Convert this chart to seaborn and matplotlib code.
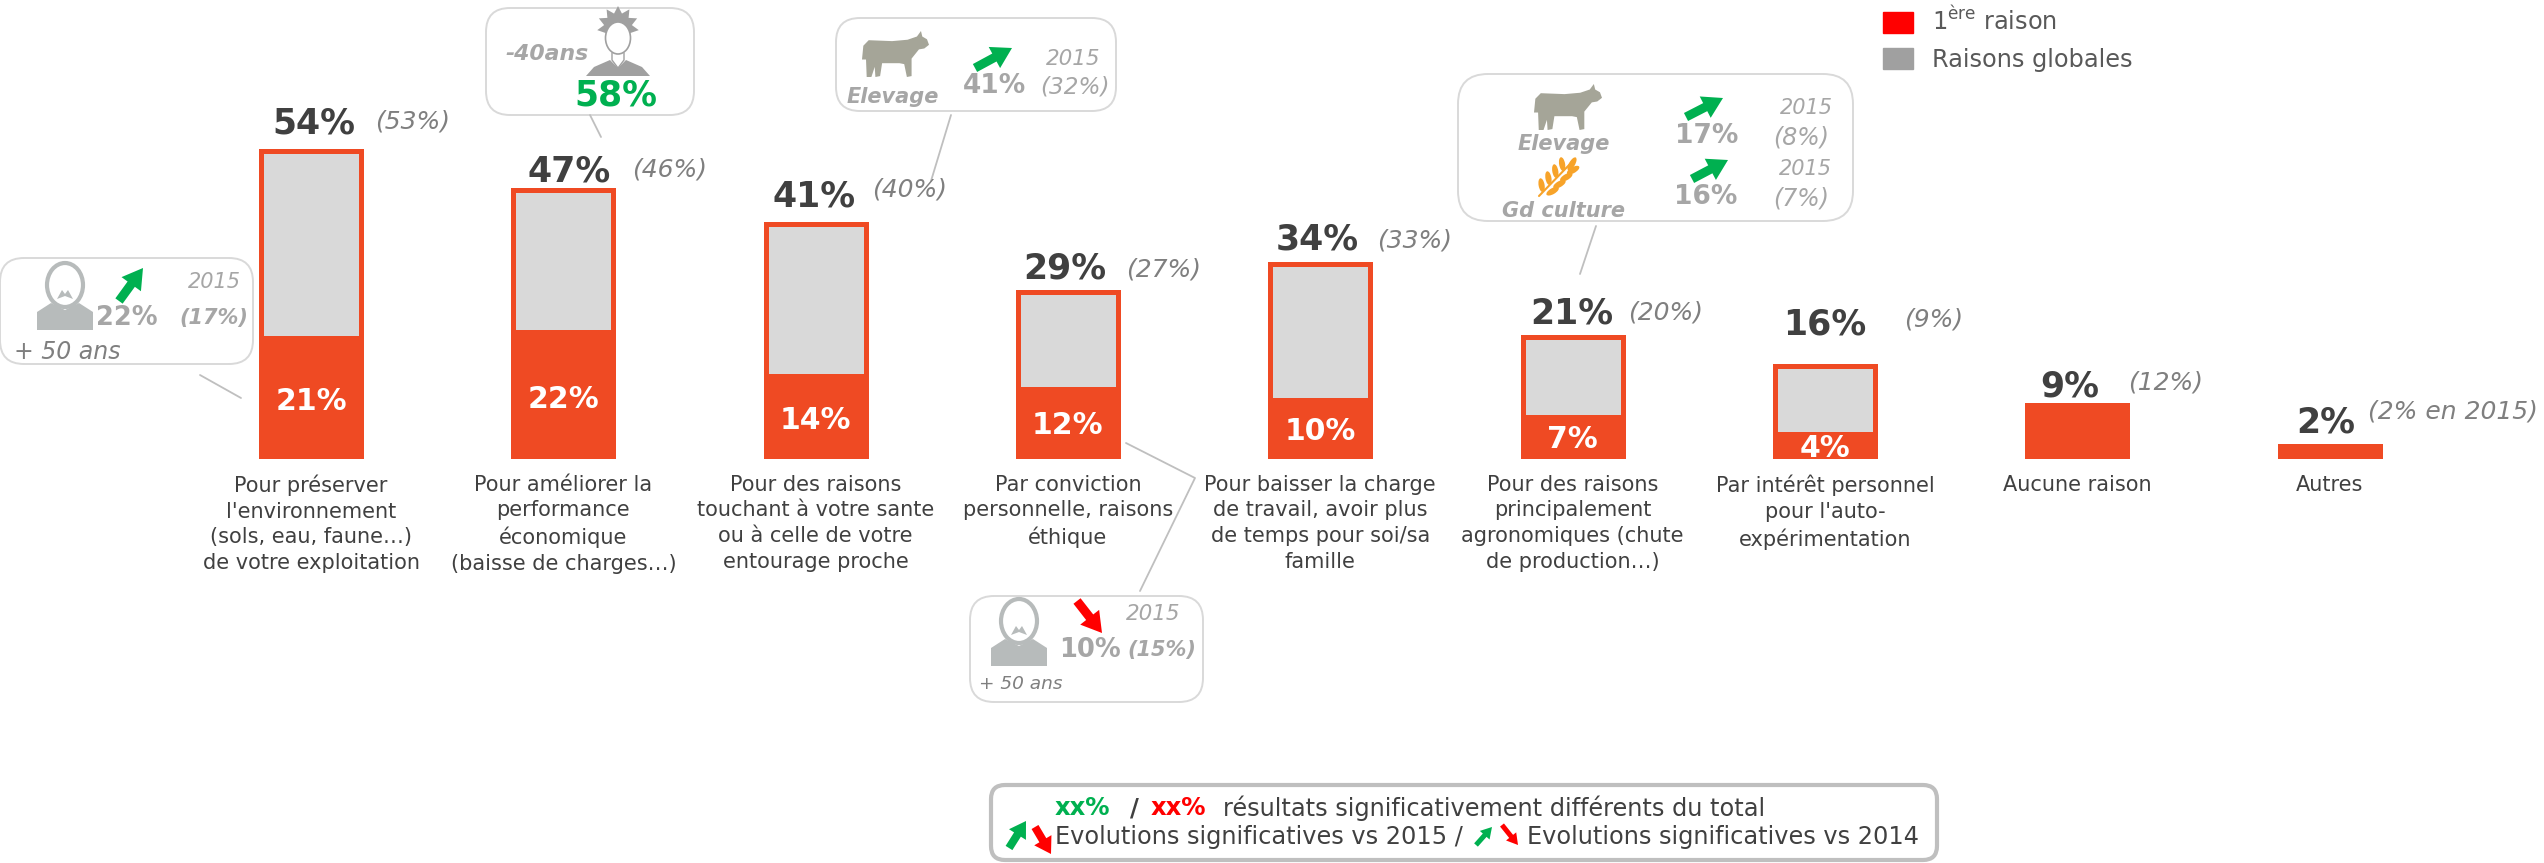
import numpy as np
import pandas as pd
import seaborn as sns
import matplotlib.pyplot as plt
from matplotlib.patches import FancyArrow, FancyBboxPatch, Patch, Polygon, Ellipse

categories = [
    "Pour préserver\nl'environnement\n(sols, eau, faune…)\nde votre exploitation",
    "Pour améliorer la\nperformance\néconomique\n(baisse de charges…)",
    "Pour des raisons\ntouchant à votre sante\nou à celle de votre\nentourage proche",
    "Par conviction\npersonnelle, raisons\néthique",
    "Pour baisser la charge\nde travail, avoir plus\nde temps pour soi/sa\nfamille",
    "Pour des raisons\nprincipalement\nagronomiques (chute\nde production…)",
    "Par intérêt personnel\npour l'auto-\nexpérimentation",
    "Aucune raison",
    "Autres",
]
# bar heights (they drift slightly from the printed labels)
global_reasons = [54.2, 47.3, 41.3, 29.4, 34.3, 21.5, 16.4, 9.6, 2.4]
first_reason = [21.4, 22.4, 14.6, 12.4, 10.4, 7.5, 4.4, 9.6, 2.4]

global_labels = ["54%", "47%", "41%", "29%", "34%", "21%", "16%", "9%", "2%"]
prev_labels = ["(53%)", "(46%)", "(40%)", "(27%)", "(33%)", "(20%)", "(9%)", "(12%)", "(2% en 2015)"]
first_labels = ["21%", "22%", "14%", "12%", "10%", "7%", "4%"]

ORANGE = "#EF4A23"
LIGHT = "#D9D9D9"
DARK = "#404040"
MID = "#7F7F7F"
SOFT = "#A6A6A6"
GREEN = "#00B050"
RED = "#FF0000"
ICON = "#B7BBBB"
COW = "#A5A598"

W, H = 2544, 863

sns.set_theme(style="white")
plt.rcParams['font.family'] = ['DejaVu Sans']

fig = plt.figure(figsize=(W / 100, H / 100), dpi=100)
baseline = 459.5
left, right = 184.85, 2455.75
ax = fig.add_axes([left / W, (H - baseline) / H, (right - left) / W, baseline / H])

df = pd.DataFrame({'cat': categories, 'global': global_reasons, 'first': first_reason})
sns.barplot(data=df, x='cat', y='global', color=LIGHT, width=0.396, saturation=1,
            edgecolor=ORANGE, linewidth=3.6, ax=ax)
sns.barplot(data=df, x='cat', y='first', color=ORANGE, width=0.396, saturation=1,
            edgecolor=ORANGE, linewidth=3.6, ax=ax)
ax.set_ylim(0, baseline / 5.7)
ax.set_xlim(-0.5, 8.5)
ax.set_xlabel('')
ax.set_ylabel('')
ax.set_yticks([])
ax.tick_params(axis='x', length=0, pad=11, labelsize=15, labelcolor=DARK)
for lab in ax.get_xticklabels():
    lab.set_linespacing(1.35)
sns.despine(ax=ax, left=True, bottom=True)

# overlay in reference pixels for the labels and callouts
ov = fig.add_axes([0, 0, 1, 1], zorder=5)
ov.set_xlim(0, W)
ov.set_ylim(H, 0)
ov.axis('off')
ov.patch.set_alpha(0)


def txt(x, y, s, size, color=DARK, weight='normal', style='normal', ha='center'):
    ov.text(x, y, s, fontsize=size, color=color, fontweight=weight, fontstyle=style,
            ha=ha, va='center')


def box(x0, y0, x1, y1, r=24, ec="#D9D9D9", lw=1.4):
    ov.add_patch(FancyBboxPatch((x0 + r, y0 + r), x1 - x0 - 2 * r, y1 - y0 - 2 * r,
                                boxstyle=f"round,pad={r},rounding_size={r}",
                                fc='white', ec=ec, lw=lw))


def leader(xs, ys):
    ov.plot(xs, ys, color="#BFBFBF", lw=1.3)


def arrow(x0, y0, x1, y1, color=GREEN, w=9, hw=24, hl=20):
    ov.add_patch(FancyArrow(x0, y0, x1 - x0, y1 - y0, width=w, head_width=hw, head_length=hl,
                            length_includes_head=True, color=color, lw=0))


def senior(cx, cy, k=1.0):
    ov.add_patch(Polygon([(cx - 28 * k, cy + 45 * k), (cx - 28 * k, cy + 27 * k), (cx - 14 * k, cy + 18 * k),
                          (cx, cy + 25 * k), (cx + 14 * k, cy + 18 * k), (cx + 28 * k, cy + 27 * k),
                          (cx + 28 * k, cy + 45 * k)], fc=ICON, ec='none'))
    ov.add_patch(Ellipse((cx, cy), 36 * k, 44 * k, fc='white', ec=ICON, lw=3))
    ov.add_patch(Polygon([(cx - 8 * k, cy + 14 * k), (cx - 3 * k, cy + 5 * k), (cx, cy + 9 * k), (cx + 3 * k, cy + 5 * k),
                          (cx + 8 * k, cy + 14 * k), (cx, cy + 11 * k)], fc=ICON, ec='none'))


def young(cx, cy):
    angles = np.linspace(-25, 205, 15)
    radii = [21 if i % 2 else 14 for i in range(len(angles))]
    hair = [(cx + r * np.cos(np.radians(a)), cy - r * np.sin(np.radians(a)))
            for a, r in zip(angles, radii)]
    ov.add_patch(Polygon(hair, fc="#A0A0A0", ec='none'))
    ov.add_patch(Polygon([(cx - 32, 76), (cx - 24, 67), (cx - 8, 60), (cx, 68), (cx + 8, 60), (cx + 24, 67), (cx + 32, 76)],
                         fc="#A0A0A0", ec='none'))
    ov.add_patch(Ellipse((cx, cy + 11), 25, 32, fc='white', ec="#A0A0A0", lw=1.2))
    ov.plot([cx - 6, cx - 6, cx, cx + 6, cx + 6], [cy + 26, cy + 33, cy + 41, cy + 33, cy + 26], color="#A0A0A0", lw=1)


def cow(x0, y0, x1, y1):
    shape = [(0.02, 0.32), (0.10, 0.20), (0.45, 0.22), (0.68, 0.19), (0.82, 0.12), (0.88, 0.0), (0.90, 0.12),
             (0.97, 0.18), (1.0, 0.30), (0.93, 0.38), (0.85, 0.40), (0.74, 0.60), (0.74, 0.98), (0.67, 1.0),
             (0.63, 0.72), (0.56, 0.70), (0.30, 0.70), (0.27, 0.98), (0.20, 1.0), (0.19, 0.78), (0.14, 1.0),
             (0.07, 1.0), (0.06, 0.62), (0.0, 0.62)]
    pts = [(x0 + a * (x1 - x0), y0 + b * (y1 - y0)) for a, b in shape]
    ov.add_patch(Polygon(pts, fc=COW, ec='none'))


def wheat(x0, y0, x1, y1):
    col = "#F7A329"
    ov.plot([x0, x1 - 6], [y1, y0 + 6], color=col, lw=1.5)
    for t in [0.2, 0.38, 0.56, 0.74]:
        mx = x0 + t * (x1 - x0)
        my = y1 - t * (y1 - y0)
        ov.add_patch(Ellipse((mx - 5, my - 3), 6, 14, angle=-10, fc=col, ec='none'))
        ov.add_patch(Ellipse((mx + 6, my + 3), 6, 14, angle=60, fc=col, ec='none'))
    ov.add_patch(Ellipse((x1 - 5, y0 + 7), 6, 15, angle=30, fc=col, ec='none'))


# labels above and inside the bars
total_xy = [(314, 123), (569, 171), (814, 196), (1065, 268), (1317, 239), (1572, 313), (1825, 324), (2070, 386), (2326, 422)]
prev_xy = [(413, 121), (670, 169), (910, 190), (1164, 269), (1415, 240), (1666, 312), (1934, 319), (2166, 382), (2453, 411)]
inner_y = [401, 399, 420, 425, 431, 439, 448]
bar_x = [311 + 252.3 * i for i in range(9)]

for s, p, a, b in zip(global_labels, prev_labels, total_xy, prev_xy):
    txt(a[0], a[1], s, 25, weight='bold')
    txt(b[0], b[1], p, 18, color=MID, style='italic')
for s, x, y in zip(first_labels, bar_x, inner_y):
    txt(x, y, s, 21.5, color='white', weight='bold')

# +50 ans, first bar
leader([200, 241], [375, 398])
box(0, 258, 253, 364)
senior(65, 285)
arrow(119, 301, 143, 268)
txt(127, 318, "22%", 18.5, color=SOFT, weight='bold')
txt(241, 282, "2015", 15, color=SOFT, style='italic', ha='right')
txt(214, 318, "(17%)", 15, color=SOFT, weight='bold', style='italic')
txt(14, 352, "+ 50 ans", 17, color=MID, style='italic', ha='left')

# -40 ans
leader([590, 601], [115, 137])
box(486, 8, 694, 115)
young(618, 27)
txt(547, 54, "-40ans", 15.8, color=SOFT, weight='bold', style='italic')
txt(616, 95, "58%", 25, color=GREEN, weight='bold')

# elevage, third bar
leader([951, 931], [115, 181])
box(836, 18, 1116, 111)
cow(862, 31, 929, 77)
txt(893, 97, "Elevage", 15, color=SOFT, weight='bold', style='italic')
arrow(975, 68, 1012, 48)
txt(995, 86, "41%", 19, color=SOFT, weight='bold')
txt(1073, 59, "2015", 15.5, color=SOFT, style='italic')
txt(1075, 87, "(32%)", 16.7, color=SOFT, style='italic')

# elevage + grandes cultures
leader([1596, 1580], [226, 274])
box(1458, 74, 1853, 221, r=30)
cow(1534, 84, 1602, 130)
txt(1564, 144, "Elevage", 15, color=SOFT, weight='bold', style='italic')
wheat(1539, 157, 1577, 196)
txt(1563, 211, "Gd culture", 15, color=SOFT, weight='bold', style='italic')
arrow(1686, 117, 1723, 98)
arrow(1692, 179, 1728, 160)
txt(1707, 136, "17%", 19, color=SOFT, weight='bold')
txt(1706, 197, "16%", 19, color=SOFT, weight='bold')
txt(1806, 108, "2015", 15, color=SOFT, style='italic')
txt(1801, 137, "(8%)", 17, color=SOFT, style='italic')
txt(1805, 169, "2015", 15, color=SOFT, style='italic')
txt(1801, 198, "(7%)", 17, color=SOFT, style='italic')

# +50 ans, fourth bar
leader([1126, 1195, 1140], [443, 478, 591])
box(970, 596, 1203, 702)
senior(1019, 621)
arrow(1077, 601, 1102, 633, color=RED)
txt(1090, 650, "10%", 18.5, color=SOFT, weight='bold')
txt(1162, 650, "(15%)", 15, color=SOFT, weight='bold', style='italic')
txt(1153, 614, "2015", 15.5, color=SOFT, style='italic')
txt(979, 684, "+ 50 ans", 13.3, color=MID, style='italic', ha='left')

# key at the bottom
box(991, 785, 1937, 860, r=14, ec="#BFBFBF", lw=3)
txt(1055, 808, "xx%", 17.5, color=GREEN, weight='bold', ha='left')
txt(1134, 808, "/", 17.5, weight='bold')
txt(1151, 808, "xx%", 17.5, color=RED, weight='bold', ha='left')
txt(1223, 808, "résultats significativement différents du total", 17.3, ha='left')
txt(1055, 837, "Evolutions significatives vs 2015 /", 17.3, ha='left')
txt(1527, 837, "Evolutions significatives vs 2014", 17.3, ha='left')
arrow(1009, 848, 1026, 821, w=8, hw=20, hl=16)
arrow(1035, 827, 1051, 854, color=RED, w=8, hw=20, hl=16)
arrow(1476, 845, 1492, 827, w=5, hw=13, hl=11)
arrow(1502, 825, 1518, 845, color=RED, w=5, hw=13, hl=11)

handles = [Patch(color=RED, label="1$^{\\mathrm{ère}}$ raison"), Patch(color="#A0A0A0", label="Raisons globales")]
ov.legend(handles=handles, loc='upper left', bbox_to_anchor=(1883 / W, 1 - 7 / H), bbox_transform=ov.transAxes,
          frameon=False, fontsize=17.3, labelcolor="#595959", handlelength=1.25, handleheight=0.95,
          handletextpad=0.8, labelspacing=0.5, borderpad=0, borderaxespad=0)

fig.savefig('out.png', dpi=100)
